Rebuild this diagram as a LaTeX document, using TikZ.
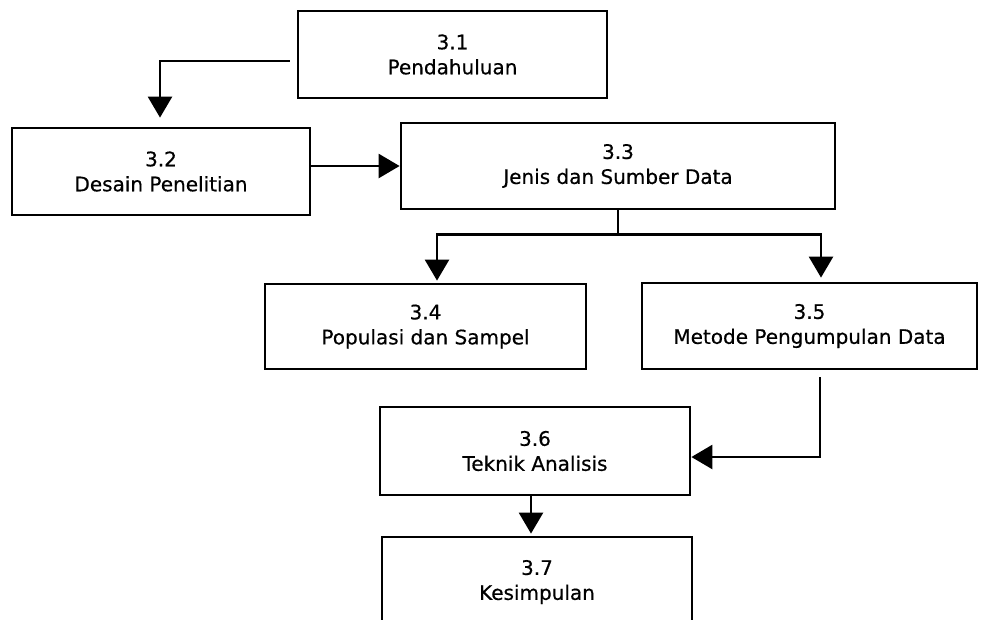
\documentclass[tikz,border=0pt]{standalone}
\usepackage{fontspec}
\setmainfont{DejaVu Sans}
\newfontfamily\boxfont{DejaVu Sans}[FakeBold=0.5]
\usetikzlibrary{arrows.meta}

\begin{document}
\begin{tikzpicture}[x=1pt, y=-1pt,
  box/.style={draw, line width=2.8pt, rectangle, inner sep=0pt, align=center,
    font=\boxfont\fontsize{20}{25}\selectfont,
    execute at begin node={\rule{0pt}{23pt}}},
  link/.style={line width=2.6pt},
  conn/.style={link, -{Triangle[width=24pt, length=21pt]}}
]
  \useasboundingbox (0,0) rectangle (983,619);
  \clip (0,0) rectangle (983,619);

  % chapter sections
  \node[box, minimum width=309pt, minimum height=87pt] (b31) at (452.5,54.5) {3.1\\Pendahuluan};
  \node[box, minimum width=298pt, minimum height=87pt] (b32) at (161,171.5) {3.2\\Desain Penelitian};
  \node[box, minimum width=434pt, minimum height=86pt] (b33) at (618,166) {3.3\\Jenis dan Sumber Data};
  \node[box, minimum width=321pt, minimum height=85pt] (b34) at (425.5,326.5) {3.4\\Populasi dan Sampel};
  \node[box, minimum width=335pt, minimum height=86pt] (b35) at (809.5,326) {3.5\\Metode Pengumpulan Data};
  \node[box, minimum width=310pt, minimum height=88pt] (b36) at (535,451) {3.6\\Teknik Analisis};
  \node[box, minimum width=310pt, minimum height=90pt] (b37) at (537,582) {3.7\\Kesimpulan};

  % flow between sections
  \draw[conn, shorten <=7pt, shorten >=9pt] ([yshift=-6.5pt]b31.west) -| ([xshift=-1pt]b32.north);
  \draw[conn] (b32.east |- b33.west) -- (b33.west);

  % 3.3 branches into 3.4 and 3.5
  \coordinate (split) at ([yshift=-24pt]b33.south);
  \coordinate (toL) at ([xshift=11.5pt]b34.north);
  \coordinate (toR) at ([xshift=11.5pt]b35.north);
  \draw[link] (b33.south) -- (split);
  \draw[link, line cap=rect] (split -| toL) -- (split -| toR);
  \draw[conn, shorten >=2pt] (split -| toL) -- (toL);
  \draw[conn, shorten >=4pt] (split -| toR) -- (toR);

  \draw[conn, shorten <=7pt] ([xshift=10.5pt]b35.south) |- ([yshift=-6pt]b36.east);
  \coordinate (drop) at ([xshift=-4pt]b36.south);
  \draw[conn, shorten >=2pt] (drop) -- (drop |- b37.north);
\end{tikzpicture}
\end{document}
